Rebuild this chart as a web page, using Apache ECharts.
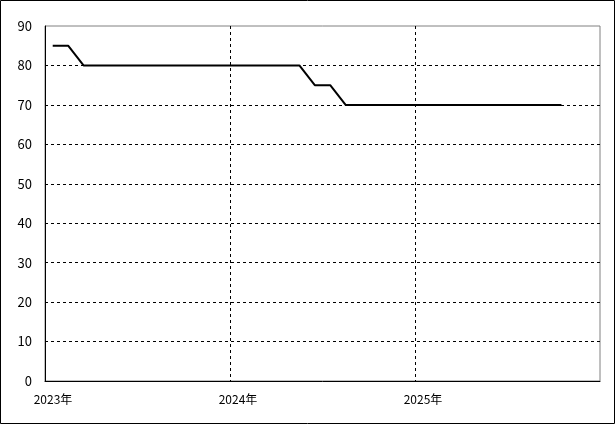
<!DOCTYPE html>
<html><head><meta charset="utf-8">
<script src="https://cdn.jsdelivr.net/npm/echarts@6/dist/echarts.min.js"></script>
<style>html,body{margin:0;padding:0;background:#fff}#c{width:615px;height:424px}</style>
</head><body><div id="c"></div>
<script>
// month index from Jan 2023 (0) ; points plotted at the middle of each month
const monthIndex = [0,1,2,3,4,5,6,7,8,9,10,11,12,13,14,15,16,17,18,19,20,21,22,23,24,25,26,27,28,29,30,31,32,33];
const values = [85,85,80,80,80,80,80,80,80,80,80,80,80,80,80,80,80,75,75,70,70,70,70,70,70,70,70,70,70,70,70,70,70,70];
const yearLabels = ['2023年','2024年','2025年'];
const yTicks = [0,10,20,30,40,50,60,70,80,90];

const data = monthIndex.map((m,i)=>[m+0.5, values[i]]);
const font = '"Noto Sans CJK JP", "DejaVu Sans", sans-serif';
const chart = echarts.init(document.getElementById('c'), null, {renderer:'canvas'});
chart.setOption({
  animation:false,
  backgroundColor:'#fff',
  graphic:[{type:'rect', shape:{x:0.5,y:0.5,width:614,height:423}, style:{fill:'none',stroke:'#000',lineWidth:1}, z:100}],
  grid:{left:45,right:15,top:26,bottom:43,show:true,borderColor:'#808080',borderWidth:1},
  xAxis:{type:'value',min:0,max:36,interval:12,
    axisLine:{show:true,lineStyle:{color:'#000',width:1}},
    axisTick:{show:false},
    axisLabel:{color:'#000',fontFamily:font,fontSize:12,margin:12,align:'center',padding:[0,0,0,16],
      formatter:v=>{const k=v/12; return yearLabels[k]||'';}},
    splitLine:{show:true,showMinLine:false,showMaxLine:false,lineStyle:{color:'#000',type:[3,3],width:1}}
  },
  yAxis:{type:'value',min:yTicks[0],max:yTicks[yTicks.length-1],interval:10,
    axisLine:{show:true,lineStyle:{color:'#000',width:1}},
    axisTick:{show:false},
    axisLabel:{color:'#000',fontFamily:font,fontSize:13,margin:13},
    splitLine:{show:true,showMinLine:false,showMaxLine:false,lineStyle:{color:'#000',type:[3,3],width:1}}
  },
  series:[{type:'line',data:data,showSymbol:false,lineStyle:{color:'#000',width:2},z:10}]
});
</script></body></html>
